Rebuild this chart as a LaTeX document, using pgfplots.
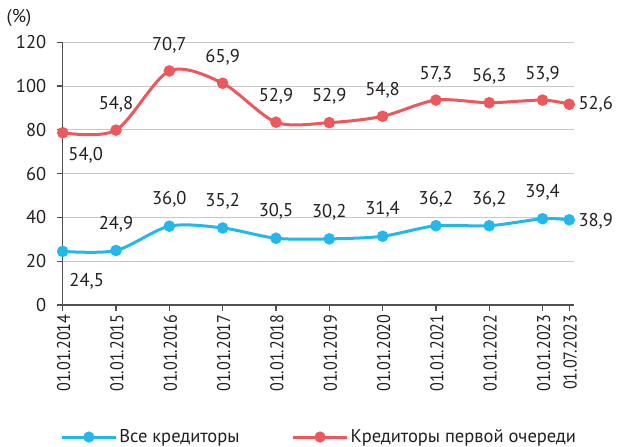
\documentclass[border=0pt]{standalone}
\usepackage{fontspec}
\setmainfont{PT Sans}
\newfontfamily\narrowfont[FakeStretch=0.87]{PT Sans}
\usepackage{pgfplots}
\pgfplotsset{compat=1.18}
\definecolor{cred}{RGB}{236,88,92}
\definecolor{cblue}{RGB}{34,184,235}
\definecolor{cgrid}{RGB}{200,200,200}
\definecolor{caxis}{RGB}{80,80,80}
\definecolor{ctext}{RGB}{35,31,32}
\newcommand{\fs}{\fontsize{18.5}{21}\selectfont}
\pgfplotstableread{
x y l
2014 78.7 {54,0}
2015 79.9 {54,8}
2016 106.9 {70,7}
2017 101.3 {65,9}
2018 83.5 {52,9}
2019 83.3 {52,9}
2020 86.2 {54,8}
2021 93.6 {57,3}
2022 92.4 {56,3}
2023 93.6 {53,9}
2023.5 91.7 {52,6}
}\redtab
\pgfplotstableread{
x y l
2014 24.5 {24,5}
2015 24.9 {24,9}
2016 36.0 {36,0}
2017 35.2 {35,2}
2018 30.5 {30,5}
2019 30.2 {30,2}
2020 31.4 {31,4}
2021 36.2 {36,2}
2022 36.2 {36,2}
2023 39.4 {39,4}
2023.5 38.9 {38,9}
}\bluetab
\begin{document}
\begin{tikzpicture}
\useasboundingbox (0pt,0pt) rectangle (619pt,447pt);
\node[anchor=center, font=\fs, text=ctext] at (19pt,429.5pt) {(\%)};
\begin{axis}[
  at={(62.7pt,142pt)}, anchor=south west,
  scale only axis, width=511.3pt, height=262.7pt,
  xmin=2014, xmax=2023.59, ymin=0, ymax=120,
  axis x line*=bottom, axis y line*=left,
  axis line style={-, draw=caxis, line width=1.2pt},
  ytick={0,20,...,120},
  ymajorgrids, grid style={cgrid, line width=1pt},
  xtick={2014,2015,2016,2017,2018,2019,2020,2021,2022,2023,2023.5},
  xticklabels={01.01.2014,01.01.2015,01.01.2016,01.01.2017,01.01.2018,01.01.2019,01.01.2020,01.01.2021,01.01.2022,01.01.2023,01.07.2023},
  scaled x ticks=false,
  x tick label style={rotate=90, anchor=east, font=\narrowfont\fs, text=ctext, yshift=-1pt},
  y tick label style={font=\fs, text=ctext, xshift=-7pt},
  /pgf/number format/assume math mode=true,
  tick align=outside, major tick length=6pt,
  tick style={caxis, line width=1.2pt},
  legend style={at={(-0.005,-0.5025)}, anchor=west, draw=none, fill=none,
    legend columns=2, font=\fs, text=ctext, inner sep=0pt,
    /tikz/every even column/.append style={column sep=50pt}},
  legend image code/.code={
    \draw[#1, mark=none] (0pt,0pt) -- (54pt,0pt);
    \fill[#1] (27pt,0pt) circle (4pt);
  },
  every node near coord/.append style={font=\fs, text=ctext},
]
\addplot[cblue, line width=3pt, smooth, mark=*, mark size=4.2pt, mark options={solid}] table[x=x,y=y] {\bluetab};
\addlegendentry{Все кредиторы}
\addplot[cred, line width=3pt, smooth, mark=*, mark size=4.2pt, mark options={solid}] table[x=x,y=y] {\redtab};
\addlegendentry{Кредиторы первой очереди}

% labels above
\addplot[draw=none, mark=none, forget plot, nodes near coords, point meta=explicit symbolic,
  every node near coord/.append style={anchor=center, yshift=26pt}]
  table[x=x,y=y,meta=l, skip coords between index={0}{1}, skip coords between index={10}{11}] {\redtab};
\addplot[draw=none, mark=none, forget plot, nodes near coords, point meta=explicit symbolic,
  every node near coord/.append style={anchor=center, yshift=26.5pt}]
  table[x=x,y=y,meta=l, skip coords between index={0}{1}, skip coords between index={10}{11}] {\bluetab};
% first labels below right
\addplot[draw=none, mark=none, forget plot, nodes near coords, point meta=explicit symbolic,
  every node near coord/.append style={anchor=center, xshift=23pt, yshift=-22.3pt}]
  table[x=x,y=y,meta=l, skip coords between index={1}{11}] {\redtab};
\addplot[draw=none, mark=none, forget plot, nodes near coords, point meta=explicit symbolic,
  every node near coord/.append style={anchor=center, xshift=24pt, yshift=-30pt}]
  table[x=x,y=y,meta=l, skip coords between index={1}{11}] {\bluetab};
% last labels right
\addplot[draw=none, mark=none, forget plot, nodes near coords, point meta=explicit symbolic,
  every node near coord/.append style={anchor=center, xshift=26.5pt, yshift=0pt}]
  table[x=x,y=y,meta=l, skip coords between index={0}{10}] {\redtab};
\addplot[draw=none, mark=none, forget plot, nodes near coords, point meta=explicit symbolic,
  every node near coord/.append style={anchor=center, xshift=26.5pt, yshift=-1.5pt}]
  table[x=x,y=y,meta=l, skip coords between index={0}{10}] {\bluetab};
\end{axis}
\end{tikzpicture}
\end{document}
